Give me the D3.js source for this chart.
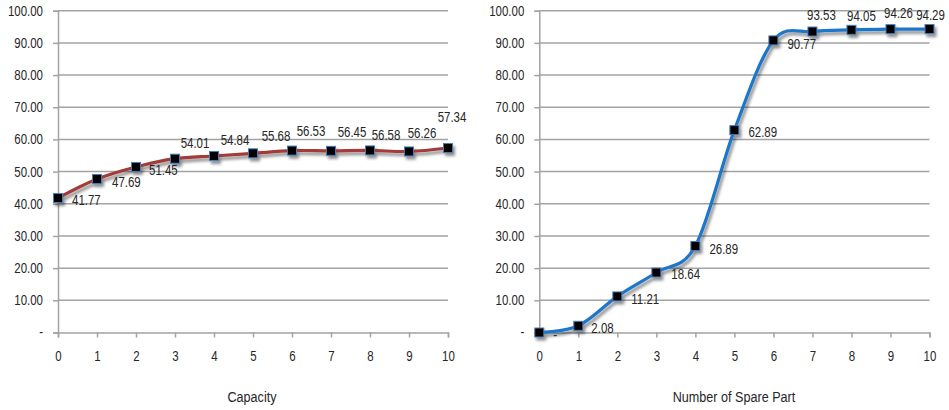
<!DOCTYPE html>
<html>
<head>
<meta charset="utf-8">
<script src="https://cdn.jsdelivr.net/npm/d3@7"></script>
<style>
  body { margin: 0; background: #fff; }
  svg text { font-family: "Liberation Sans", Arial, sans-serif; fill: #262626; }
</style>
</head>
<body>
<svg id="chart" width="949" height="410"></svg>
<script>
// ---- data ----
const categories = [0, 1, 2, 3, 4, 5, 6, 7, 8, 9, 10];
const capacityValues = [41.77, 47.69, 51.45, 54.01, 54.84, 55.68, 56.53, 56.45, 56.58, 56.26, 57.34];
const sparePartValues = [0, 2.08, 11.21, 18.64, 26.89, 62.89, 90.77, 93.53, 94.05, 94.26, 94.29];
const yTicks = [0, 10, 20, 30, 40, 50, 60, 70, 80, 90, 100];
const capacityTitle = "Capacity";
const sparePartTitle = "Number of Spare Part";

// ---- label placement (anchor, dx, dy from the marker) ----
const capacityLabelPlacement = [
  ["start", 14, 2], ["start", 15, 3], ["start", 13, 3],
  ["middle", 20, -16], ["middle", 21, -16], ["middle", 23, -17], ["middle", 19, -19],
  ["middle", 21, -19], ["middle", 16, -15], ["middle", 13, -18], ["middle", 4, -31]
];
const sparePartLabelPlacement = [
  ["start", 14, 3], ["start", 13, 2], ["start", 14, 3], ["start", 15, 2],
  ["start", 14, 3], ["start", 14, 2], ["start", 14, 3.5],
  ["middle", 9, -16.5], ["middle", 10, -14], ["middle", 8, -16], ["middle", 1, -14]
];

const svg = d3.select("#chart");
const fmt = v => v === 0 ? "-" : d3.format(".2f")(v);
const SQUEEZE = 0.82;

// condensed look: move each text's x/y into a transform and narrow it horizontally
function squeeze(sel, s = SQUEEZE) {
  sel.each(function () {
    const t = d3.select(this);
    const x = +t.attr("x") || 0, y = +t.attr("y") || 0;
    t.attr("x", 0).attr("y", 0)
      .attr("transform", `translate(${x},${y}) scale(${s},1)`);
  });
}

// soft shadow under the series lines
const defs = svg.append("defs");
defs.append("filter").attr("id", "shadow")
  .attr("x", "-10%").attr("y", "-10%").attr("width", "130%").attr("height", "140%")
  .append("feDropShadow")
  .attr("dx", 2).attr("dy", 3).attr("stdDeviation", 1.8)
  .attr("flood-color", "#000").attr("flood-opacity", 0.45);

function drawPanel(opts) {
  const { x0, x1, values, color, title, titleX, placement } = opts;
  const yTop = 10.7, yBottom = 332.5;

  const x = d3.scaleLinear().domain([0, 10]).range([x0, x1]);
  const y = d3.scaleLinear().domain([0, 100]).range([yBottom, yTop]);
  const g = svg.append("g");

  // horizontal gridlines
  g.append("g").selectAll("line").data(yTicks.filter(t => t > 0)).join("line")
    .attr("x1", x0).attr("x2", x1)
    .attr("y1", d => y(d)).attr("y2", d => y(d))
    .attr("stroke", "#a3a3a3").attr("stroke-width", 1.5);

  // y axis
  const yAxis = g.append("g").attr("transform", `translate(${x0},0)`)
    .call(d3.axisLeft(y).tickValues(yTicks).tickFormat(fmt).tickSize(5).tickPadding(10));
  yAxis.select(".domain").attr("stroke", "#a3a3a3").attr("stroke-width", 1.5);
  yAxis.selectAll(".tick line").attr("stroke", "#a3a3a3").attr("stroke-width", 1.5);
  yAxis.selectAll(".tick text").attr("font-size", 14).style("font-family", null).call(squeeze);

  // x axis
  const xAxis = g.append("g").attr("transform", `translate(0,${yBottom})`)
    .call(d3.axisBottom(x).tickValues(categories).tickFormat(d3.format("d")).tickSize(5).tickPadding(14));
  xAxis.select(".domain").attr("stroke", "#a3a3a3").attr("stroke-width", 1.5);
  xAxis.selectAll(".tick line").attr("stroke", "#a3a3a3").attr("stroke-width", 1.5);
  xAxis.selectAll(".tick text").attr("font-size", 14).style("font-family", null).call(squeeze);

  // axis title
  g.append("text").attr("x", titleX).attr("y", 397).attr("dy", "0.35em")
    .attr("text-anchor", "middle").attr("font-size", 15).text(title)
    .call(squeeze, 0.84);

  // smoothed series line and markers
  const line = d3.line()
    .x((d, i) => x(categories[i]))
    .y(d => y(d))
    .curve(d3.curveCardinal.tension(0));

  const series = g.append("g").attr("filter", "url(#shadow)");
  series.append("path").datum(values)
    .attr("d", line).attr("fill", "none")
    .attr("stroke", color).attr("stroke-width", 3.2);
  series.selectAll("rect").data(values).join("rect")
    .attr("x", (d, i) => x(categories[i]) - 4.5)
    .attr("y", d => y(d) - 4.5)
    .attr("width", 9).attr("height", 9)
    .attr("fill", "#000").attr("stroke", "#4a7ab8").attr("stroke-width", 1);

  // data labels
  g.append("g").selectAll("text").data(values).join("text")
    .attr("x", (d, i) => x(categories[i]) + placement[i][1])
    .attr("y", (d, i) => y(d) + placement[i][2])
    .attr("dy", "0.35em")
    .attr("text-anchor", (d, i) => placement[i][0])
    .attr("font-size", 14)
    .text(fmt)
    .call(squeeze);
}

drawPanel({ x0: 58, x1: 448, values: capacityValues, color: "#a33b3b",
  title: capacityTitle, titleX: 252, placement: capacityLabelPlacement });
drawPanel({ x0: 539.3, x1: 929.5, values: sparePartValues, color: "#1f76c9",
  title: sparePartTitle, titleX: 734, placement: sparePartLabelPlacement });
</script>
</body>
</html>
